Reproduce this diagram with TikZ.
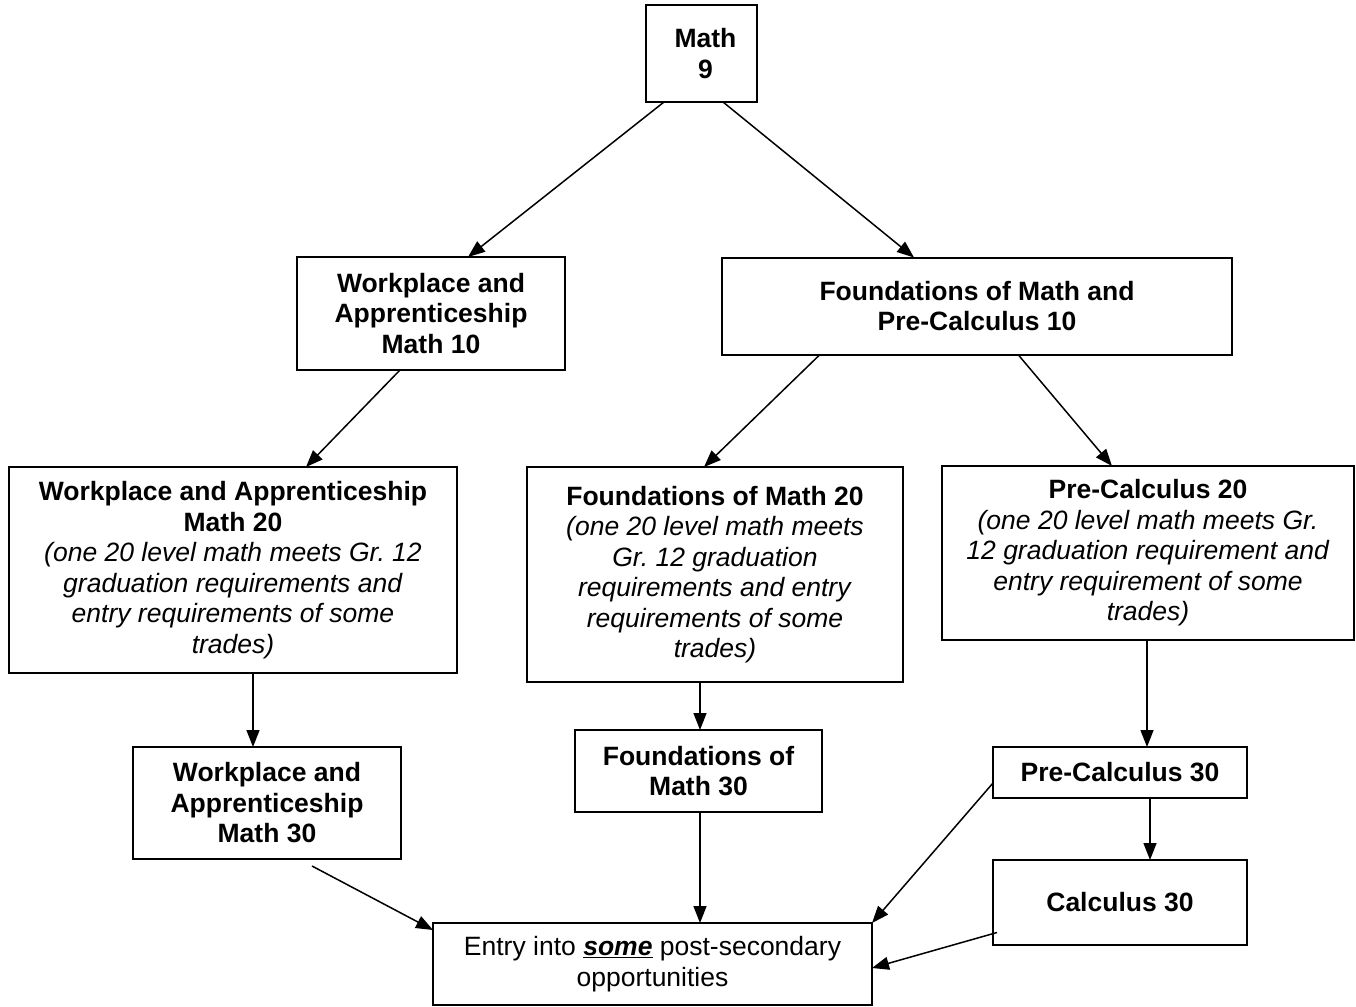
\documentclass[tikz,border=0pt]{standalone}
\usepackage{fontspec}
\setmainfont{Liberation Sans}
\usetikzlibrary{arrows.meta}
\frenchspacing
\begin{document}
\begin{tikzpicture}[x=1pt,y=-1pt,
  box/.style={draw, line width=2pt, inner sep=0pt, outer sep=0pt, align=center,
    font=\fontsize{26.5}{30.5}\selectfont},
  arr/.style={line width=1.5pt, -{Triangle[length=17pt,width=13pt]}}]
\useasboundingbox (0,0) rectangle (1356,1006);
\fill[white] (0,0) rectangle (1356,1006);

\node[box, minimum width=111pt, minimum height=97pt] (m9) at (701.5,53.5) {\hspace*{8pt}\textbf{Math}\\\hspace*{8pt}\textbf{9}};
\node[box, minimum width=268pt, minimum height=113pt] (wa10) at (431,313.5) {\textbf{Workplace and}\\\textbf{Apprenticeship}\\\textbf{Math 10}};
\node[box, minimum width=510pt, minimum height=97pt] (fp10) at (977,306) {\textbf{Foundations of Math and}\\\textbf{Pre-Calculus 10}};
\node[box, minimum width=448pt, minimum height=206pt] (wa20) at (233,570) {\textbf{Workplace and Apprenticeship}\\\textbf{Math 20}\\\textit{(one 20 level math meets Gr. 12}\\\textit{graduation requirements and}\\\textit{entry requirements of some}\\\textit{trades)}};
\node[box, minimum width=376pt, minimum height=215pt] (f20) at (715,574.5) {\textbf{Foundations of Math 20}\\\textit{(one 20 level math meets}\\\textit{Gr. 12 graduation}\\\textit{requirements and entry}\\\textit{requirements of some}\\\textit{trades)}};
\node[box, minimum width=412pt, minimum height=174pt] (pc20) at (1148,553) {\textbf{Pre-Calculus 20}\\\textit{(one 20 level math meets Gr.}\\\textit{12 graduation requirement and}\\\textit{entry requirement of some}\\\textit{trades)}};
\node[box, minimum width=268pt, minimum height=112pt] (wa30) at (267,803) {\textbf{Workplace and}\\\textbf{Apprenticeship}\\\textbf{Math 30}};
\node[box, minimum width=247pt, minimum height=82pt] (f30) at (698.5,771) {\textbf{Foundations of}\\\textbf{Math 30}};
\node[box, minimum width=254pt, minimum height=51pt] (pc30) at (1120,772.5) {\textbf{Pre-Calculus 30}};
\node[box, minimum width=254pt, minimum height=85pt] (c30) at (1120,902.5) {\textbf{Calculus 30}};
\node[box, minimum width=439pt, minimum height=82pt] (entry) at (652.5,964) {Entry into \textbf{\textit{\underline{some}}} post-secondary\\opportunities};

\draw[arr] ([xshift=-37.5pt]m9.south) -- ([xshift=37pt]wa10.north);
\draw[arr] ([xshift=21.5pt]m9.south) -- ([xshift=-63pt]fp10.north);
\draw[arr] ([xshift=-31pt]wa10.south) -- ([xshift=73pt]wa20.north);
\draw[arr] ([xshift=-157pt]fp10.south) -- ([xshift=-11pt]f20.north);
\draw[arr] ([xshift=41pt]fp10.south) -- ([xshift=-36pt]pc20.north);
\draw[arr] ([xshift=20pt]wa20.south) -- ([xshift=-14pt]wa30.north);
\draw[arr] ([xshift=-15pt]f20.south) -- ([xshift=1.5pt]f30.north);
\draw[arr] ([xshift=-1pt]pc20.south) -- ([xshift=27pt]pc30.north);
\draw[arr] ([xshift=30pt]pc30.south) -- ([xshift=30pt]c30.north);
\draw[arr] ([xshift=45pt,yshift=-7pt]wa30.south) -- ([yshift=34pt]entry.west);
\draw[arr] ([xshift=1.5pt]f30.south) -- ([xshift=47.5pt]entry.north);
\draw[arr] ([yshift=-10.5pt]pc30.west) -- (entry.north east);
\draw[arr] ([xshift=4pt,yshift=-30pt]c30.west) -- ([yshift=-4pt]entry.east);
\end{tikzpicture}
\end{document}
